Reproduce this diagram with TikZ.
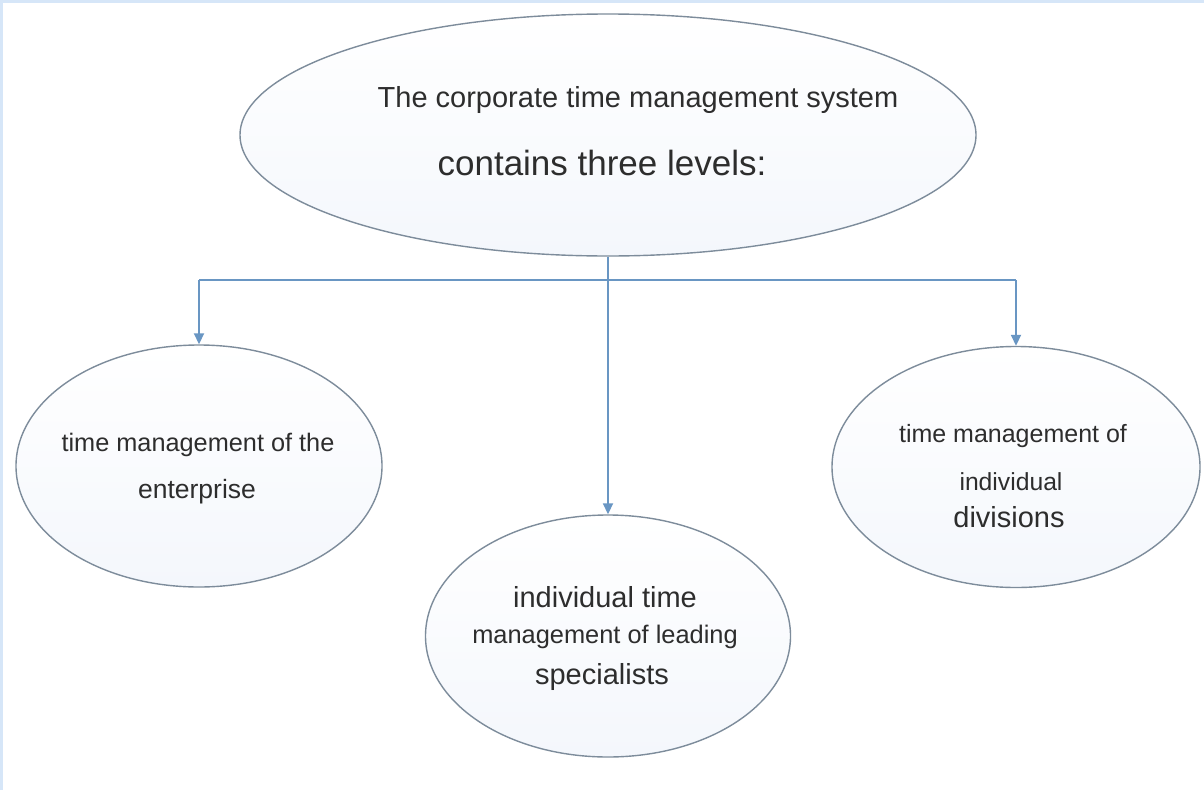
\documentclass[tikz,border=0pt]{standalone}
\usepackage{fontspec}
\setmainfont{Liberation Sans}
\usepackage{tikz}
\usetikzlibrary{arrows.meta, positioning, calc, shapes.geometric}
\definecolor{rimcolor}{RGB}{125,140,155}
\definecolor{linkcolor}{RGB}{105,150,195}
\definecolor{fillcolor}{RGB}{244,247,252}
\definecolor{framecolor}{RGB}{214,230,248}
\definecolor{inkcolor}{RGB}{45,45,45}

\begin{document}
\begin{tikzpicture}[x=1pt, y=-1pt,
    level/.style={draw=rimcolor, ellipse, line width=1.4pt, inner sep=0pt,
                  top color=white, bottom color=fillcolor},
    txt/.style={text=inkcolor, inner sep=0pt, anchor=center},
    arr/.style={-{Triangle[width=10pt, length=11pt]}, linkcolor, line width=1.8pt},
    bar/.style={linkcolor, line width=1.8pt}
  ]
  % frame
  \fill[white] (0,0) rectangle (1204,790);
  \useasboundingbox (0,0) rectangle (1204,790);
  \draw[framecolor, line width=3pt] (1.5,790) -- (1.5,1.5) -- (1204,1.5);

  % Top level
  \node[level, minimum width=736pt, minimum height=242pt] (sys) at (608,135) {};
  \node[txt, font=\fontsize{29}{33}\selectfont] (sysa) at (638,100)
        {The corporate time management system};
  \node[txt, font=\fontsize{35}{40}\selectfont] (sysb) at (602,163)
        {contains three levels:};

  % Enterprise
  \node[level, minimum width=366pt, minimum height=242pt] (ent) at (199,466) {};
  \node[txt, font=\fontsize{25.3}{29}\selectfont] (enta) at (198,445)
        {time management of the};
  \node[txt, font=\fontsize{26.5}{30}\selectfont] (entb) at (197,492) {enterprise};

  % Specialists
  \node[level, minimum width=365pt, minimum height=242pt] (spec) at (608,636) {};
  \node[txt, font=\fontsize{29}{33}\selectfont] (speca) at (605,597) {individual time};
  \node[txt, font=\fontsize{25.4}{29}\selectfont] (specb) at (605,637)
        {management of leading};
  \node[txt, font=\fontsize{29}{33}\selectfont] (specc) at (602,677) {specialists};

  % Divisions
  \node[level, minimum width=368pt, minimum height=241pt] (div) at (1016,467) {};
  \node[txt, font=\fontsize{25}{29}\selectfont] (diva) at (1013,436) {time management of};
  \node[txt, font=\fontsize{24.7}{28}\selectfont] (divb) at (1011,482) {individual};
  \node[txt, font=\fontsize{29}{33}\selectfont] (divc) at (1009,517) {divisions};

  % Arrows
  \coordinate (split) at (608,280);
  \draw[bar] (split -| ent.north) -- (split -| div.north);
  \draw[arr] (split -| ent.north) -- (ent.north);
  \draw[arr] (split -| div.north) -- (div.north);
  \draw[arr] (sys.south) -- (spec.north);
\end{tikzpicture}
\end{document}
